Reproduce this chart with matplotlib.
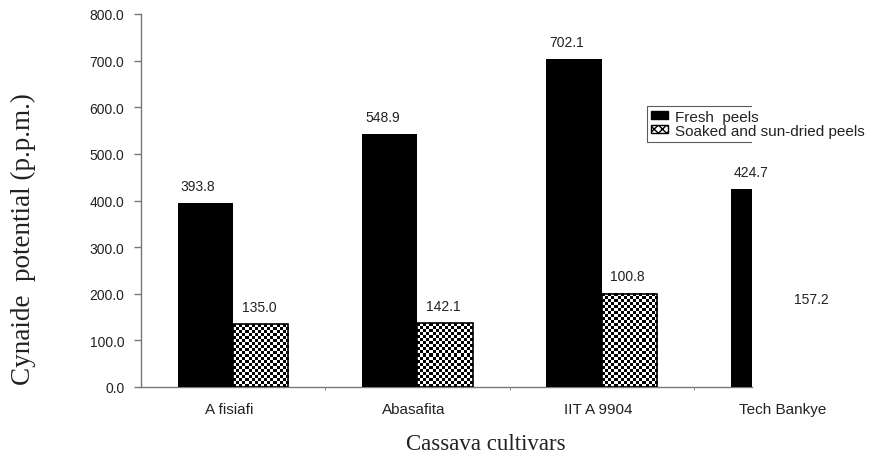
import numpy as np
import matplotlib
matplotlib.use("Agg")
import matplotlib.pyplot as plt
from matplotlib.patches import Patch

# data
cultivars = ["A fisiafi", "Abasafita", "IIT A 9904", "Tech Bankye"]
fresh_heights = [395, 543, 704, 425]
soaked_heights = [135, 137, 200, 152]
fresh_labels = ["393.8", "548.9", "702.1", "424.7"]
soaked_labels = ["135.0", "142.1", "100.8", "157.2"]
yticks = [0, 100, 200, 300, 400, 500, 600, 700, 800]

plt.rcParams['font.family'] = ['Liberation Sans', 'DejaVu Sans']
text_col = '#222222'
axis_col = '#777777'

fig = plt.figure(figsize=(8.71, 4.6), dpi=100)
ax = fig.add_axes([141 / 871, 72 / 460, 611 / 871, 373 / 460])

x = np.arange(len(cultivars))
w = 0.3

fresh = ax.bar(x - w / 2, fresh_heights, w, color='black', zorder=3)
soaked = ax.bar(x + w / 2, soaked_heights, w, facecolor='none',
                edgecolor='black', linewidth=1.2, zorder=4)

ax.set_xlim(-0.5, 2.816)
ax.set_ylim(0, 800)

# checkerboard fill for the soaked bars
fig.canvas.draw()
for b in soaked:
    x0, h, bw = b.get_x(), b.get_height(), b.get_width()
    p0 = ax.transData.transform((x0, 0))
    p1 = ax.transData.transform((x0 + bw, h))
    cols = max(int(round((p1[0] - p0[0]) / 3)), 1)
    rows = max(int(round((p1[1] - p0[1]) / 3)), 1)
    checker = np.indices((rows, cols)).sum(axis=0) % 2
    ax.imshow(checker, cmap='gray', extent=(x0, x0 + bw, 0, h), aspect='auto',
              interpolation='nearest', clip_path=b, zorder=2)
ax.set_xlim(-0.5, 2.816)
ax.set_ylim(0, 800)

# value labels
for i in range(len(cultivars)):
    ax.text(x[i] - w / 2 - 0.04, fresh_heights[i] + 37, fresh_labels[i],
            ha='center', va='center', fontsize=10, color=text_col, clip_on=False)
    ax.text(x[i] + w / 2 - 0.01, soaked_heights[i] + 37, soaked_labels[i],
            ha='center', va='center', fontsize=10, color=text_col, clip_on=False)

# category labels (last one sits past the clipped axis)
for i, name in enumerate(cultivars):
    ax.text(x[i] - 0.02, -0.06, name, transform=ax.get_xaxis_transform(),
            ha='center', va='center', fontsize=11, color=text_col, clip_on=False)

ax.set_xticks([])
ax.set_xticks([0.5, 1.5, 2.5], minor=True)
ax.tick_params(axis='x', which='minor', length=2, color=axis_col, labelbottom=False)

ax.set_yticks(yticks)
ax.set_yticklabels([f"{v:.1f}" for v in yticks])
ax.tick_params(axis='y', length=5, width=1, color=axis_col, pad=7,
               labelsize=10, labelcolor=text_col)

for s in ['top', 'right']:
    ax.spines[s].set_visible(False)
for s in ['left', 'bottom']:
    ax.spines[s].set_color(axis_col)
    ax.spines[s].set_linewidth(1)

ax.set_ylabel("Cynaide  potential (p.p.m.)", fontsize=19.5, color=text_col,
              family=['Liberation Serif', 'DejaVu Serif'])
ax.yaxis.set_label_coords(-0.172, 0.40)
ax.set_xlabel("Cassava cultivars", fontsize=16.5, color=text_col,
              family=['Liberation Serif', 'DejaVu Serif'])
ax.xaxis.set_label_coords(0.565, -0.122)

handles = [Patch(facecolor='black', edgecolor='black'),
           Patch(facecolor='white', edgecolor='black', hatch='xxxx')]
leg = ax.legend(handles, ["Fresh  peels", "Soaked and sun-dried peels"],
                loc='upper left', bbox_to_anchor=(647 / 871, 1 - 107 / 460),
                bbox_transform=fig.transFigure, fontsize=11, frameon=True,
                fancybox=False, borderaxespad=0, borderpad=0.25,
                labelspacing=0.0, handlelength=1.1, handleheight=0.45,
                handletextpad=0.5)
frame = leg.get_frame()
frame.set_edgecolor('#333333')
frame.set_linewidth(0.8)
frame.set_clip_box(ax.bbox)
frame.set_clip_on(True)
for t in leg.get_texts():
    t.set_color(text_col)

fig.savefig("out.png", dpi=100)
